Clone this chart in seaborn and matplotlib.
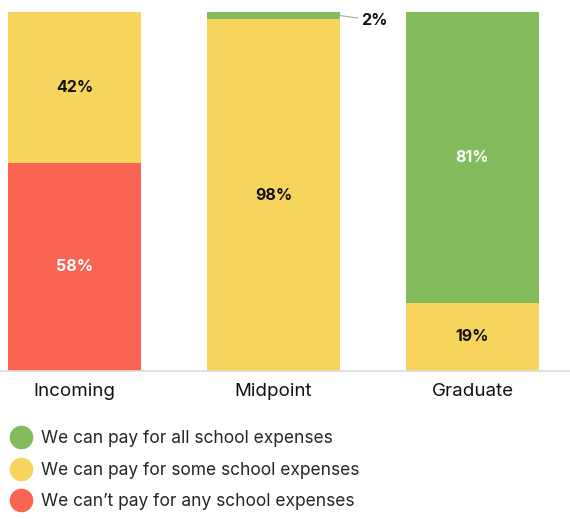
import numpy as np
import pandas as pd
import seaborn as sns
import matplotlib.pyplot as plt
from matplotlib.lines import Line2D

# ---------------- Data ----------------
categories = ["Incoming", "Midpoint", "Graduate"]
all_pct = [0, 2, 81]      # We can pay for all school expenses
some_pct = [42, 98, 19]   # We can pay for some school expenses
none_pct = [58, 0, 0]     # We can't pay for any school expenses

series_names = [
    "We can pay for all school expenses",
    "We can pay for some school expenses",
    "We can\u2019t pay for any school expenses",
]
GREEN = "#84BB5C"
YELLOW = "#F7D55C"
RED = "#F96552"

# ---------------- Style ----------------
sns.set_style("white")
plt.rcParams['font.family'] = ['Inter', 'DejaVu Sans']

df = pd.DataFrame({
    "stage": categories,
    "all": all_pct,
    "some": some_pct,
    "none": none_pct,
})
df["cum_none"] = df["none"]
df["cum_some"] = df["none"] + df["some"]
df["cum_all"] = df["cum_some"] + df["all"]

fig = plt.figure(figsize=(5.7, 5.19), dpi=100)
ax = fig.add_axes([0.0, 148 / 519, 1.0, 359 / 519])

# stacked bars drawn back-to-front (tallest first)
for col, color in [("cum_all", GREEN), ("cum_some", YELLOW), ("cum_none", RED)]:
    sns.barplot(data=df, x="stage", y=col, color=color, width=0.668,
                saturation=1, ax=ax, linewidth=0)

ax.set_xlim(-0.374, 2.49)
ax.set_ylim(0, 100)
ax.set_xlabel("")
ax.set_ylabel("")
ax.set_yticks([])
for s in ["top", "left", "right"]:
    ax.spines[s].set_visible(False)
ax.spines["bottom"].set_color("#dcdcdc")
ax.spines["bottom"].set_linewidth(1.2)
ax.tick_params(axis="x", length=0, pad=9, labelsize=13.5, labelcolor="#111111")

# segment labels
for i in range(len(categories)):
    segs = [
        (df["none"][i], 0, "white"),
        (df["some"][i], df["cum_none"][i], "#111111"),
        (df["all"][i], df["cum_some"][i], "white"),
    ]
    for val, base, tc in segs:
        if val >= 5:
            ax.text(i, base + val / 2, f"{val}%", ha="center", va="center",
                    fontsize=11.5, fontweight="bold", color=tc)

# small 2% segment with leader line
i = 1
ax.annotate(f"{all_pct[i]}%", xy=(i + 0.334, 99), xytext=(i + 0.44, 97.7),
            ha="left", va="center", fontsize=11.5, fontweight="bold", color="#111111",
            arrowprops=dict(arrowstyle="-", color="#aaaaaa", lw=0.8,
                            shrinkA=0, shrinkB=0))

# legend
handles = [Line2D([0], [0], marker="o", linestyle="", markersize=17,
                  markerfacecolor=c, markeredgewidth=0)
           for c in [GREEN, YELLOW, RED]]
fig.legend(handles, series_names, loc="upper left", bbox_to_anchor=(0.0, 0.185),
           frameon=False, fontsize=12.5, handletextpad=0.35, labelspacing=0.85,
           handlelength=1.6, borderaxespad=0)

plt.savefig("out.png", dpi=100)
